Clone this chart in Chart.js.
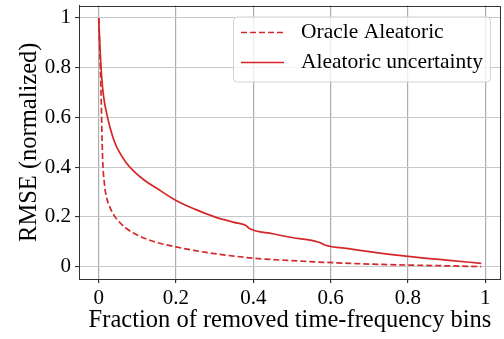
<!DOCTYPE html>
<html>
<head>
<meta charset="utf-8">
<script src="https://cdn.jsdelivr.net/npm/chart.js@4/dist/chart.umd.min.js"></script>
<style>
    html, body { margin: 0; padding: 0; background: #fff; }
    canvas { display: block; }
</style>
</head>
<body>
<canvas id="grafico" width="504" height="339"></canvas>
<script>
// Fracción de bins eliminados (eje x)
const fracciones = [0, 0.003, 0.006, 0.01, 0.015, 0.02, 0.03, 0.04, 0.05, 0.07, 0.09, 0.12, 0.15,
    0.2, 0.25, 0.3, 0.35, 0.38, 0.39, 0.45, 0.5, 0.57, 0.585, 0.65, 0.7, 0.8, 0.9, 0.99];

// RMSE normalizado por serie
const oracleAleatoric = [1.0, 0.86, 0.70, 0.44, 0.33, 0.28, 0.235, 0.205, 0.185, 0.155, 0.135, 0.113, 0.097,
    0.079, 0.064, 0.052, 0.042, 0.037, 0.035, 0.028, 0.024, 0.018, 0.017, 0.013, 0.010, 0.006, 0.003, 0.0];
const aleatoricUncertainty = [1.0, 0.89, 0.80, 0.72, 0.66, 0.62, 0.555, 0.505, 0.47, 0.42, 0.385, 0.345, 0.315,
    0.266, 0.230, 0.200, 0.178, 0.166, 0.153, 0.132, 0.117, 0.098, 0.087, 0.071, 0.060, 0.041, 0.026, 0.013];

const etiquetas = ['Oracle Aleatoric', 'Aleatoric uncertainty'];
const ticksX = [0, 0.2, 0.4, 0.6, 0.8, 1];
const ticksY = [0, 0.2, 0.4, 0.6, 0.8, 1];

const ROJO = '#d62728';
const FUENTE = 'Liberation Serif';

const puntos = ys => fracciones.map((x, i) => ({ x: x, y: ys[i] }));
const fmt = v => String(Number(v.toFixed(1)));

// Sin márgenes extra por las etiquetas de los extremos
const sinRelleno = s => { s.paddingTop = 0; s.paddingBottom = 0; s.paddingLeft = 0; s.paddingRight = 0; };

// Marco completo alrededor del área de datos
const marco = {
    id: 'marco',
    afterDatasetsDraw(chart) {
        const { ctx, chartArea: a } = chart;
        ctx.save();
        ctx.strokeStyle = '#333';
        ctx.lineWidth = 1;
        ctx.strokeRect(Math.round(a.left) + 0.5, Math.round(a.top) + 0.5,
            Math.round(a.right - a.left) - 1, Math.round(a.bottom - a.top) - 1);
        ctx.restore();
    }
};

// Leyenda en recuadro dentro del gráfico (arriba a la derecha)
const leyenda = {
    id: 'leyenda',
    afterDraw(chart) {
        const { ctx, chartArea: a } = chart;
        const ancho = 257, alto = 65;
        const x0 = a.right - 11 - ancho, y0 = a.top + 11;
        ctx.save();
        ctx.beginPath();
        ctx.roundRect(x0 + 0.5, y0 + 0.5, ancho, alto, 4);
        ctx.fillStyle = 'rgba(255,255,255,0.8)';
        ctx.fill();
        ctx.strokeStyle = 'rgba(200,200,200,0.8)';
        ctx.lineWidth = 1;
        ctx.stroke();
        chart.data.datasets.forEach((ds, i) => {
            const y = y0 + 16 + i * 30;
            ctx.beginPath();
            ctx.setLineDash(ds.borderDash || []);
            ctx.strokeStyle = ds.borderColor;
            ctx.lineWidth = ds.borderWidth;
            ctx.moveTo(x0 + 8, y);
            ctx.lineTo(x0 + 51, y);
            ctx.stroke();
            ctx.setLineDash([]);
            ctx.fillStyle = '#000';
            ctx.font = '21.5px "' + FUENTE + '"';
            ctx.textBaseline = 'middle';
            ctx.fillText(ds.label, x0 + 68, y);
        });
        ctx.restore();
    }
};

new Chart(document.getElementById('grafico'), {
    type: 'line',
    data: {
        datasets: [{
            label: etiquetas[0],
            data: puntos(oracleAleatoric),
            borderColor: ROJO,
            borderWidth: 1.7,
            borderDash: [6, 3],
            pointRadius: 0,
            cubicInterpolationMode: 'monotone',
            fill: false
        }, {
            label: etiquetas[1],
            data: puntos(aleatoricUncertainty),
            borderColor: ROJO,
            borderWidth: 1.7,
            pointRadius: 0,
            cubicInterpolationMode: 'monotone',
            fill: false
        }]
    },
    options: {
        responsive: false,
        animation: false,
        devicePixelRatio: 1,
        layout: { padding: { top: 5.5, right: 3, left: 0, bottom: 0 } },
        plugins: {
            legend: { display: false },
            tooltip: { enabled: false }
        },
        scales: {
            x: {
                type: 'linear',
                min: -0.051,
                max: 1.041,
                afterFit: s => { s.height = 60; sinRelleno(s); },
                afterBuildTicks: s => { s.ticks = ticksX.map(v => ({ value: v })); },
                grid: { color: '#acacac', lineWidth: 1.2, tickLength: 4, tickColor: '#333' },
                border: { color: '#333', width: 1 },
                ticks: {
                    color: '#000',
                    padding: 3,
                    maxRotation: 0,
                    font: { family: FUENTE, size: 21 },
                    callback: v => fmt(v)
                },
                title: {
                    display: true,
                    text: 'Fraction of removed time-frequency bins',
                    color: '#000',
                    font: { family: FUENTE, size: 24.5, lineHeight: 1 },
                    padding: { top: 0, bottom: 6 }
                }
            },
            y: {
                min: -0.05,
                max: 1.05,
                afterFit: s => { s.width = 79; sinRelleno(s); },
                afterBuildTicks: s => { s.ticks = ticksY.map(v => ({ value: v })); },
                grid: { color: '#c8c8c8', lineWidth: 1.1, tickLength: 4, tickColor: '#333' },
                border: { color: '#333', width: 1 },
                ticks: {
                    color: '#000',
                    padding: 4,
                    font: { family: FUENTE, size: 21 },
                    callback: v => fmt(v)
                },
                title: {
                    display: true,
                    text: 'RMSE (normalized)',
                    color: '#000',
                    font: { family: FUENTE, size: 24.5, lineHeight: 1 },
                    padding: { top: 17, bottom: 0 }
                }
            }
        }
    },
    plugins: [marco, leyenda]
});
</script>
</body>
</html>
